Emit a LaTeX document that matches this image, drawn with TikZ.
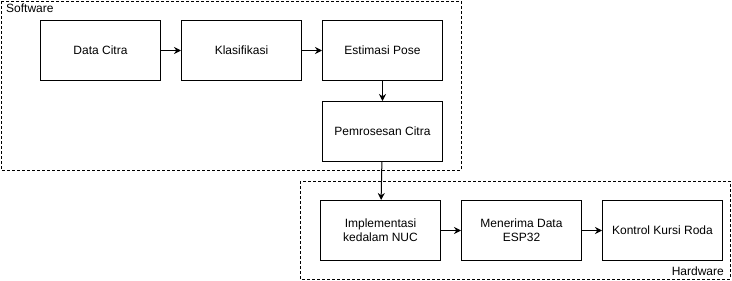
\documentclass[tikz,border=0pt]{standalone}
\usepackage{fontspec}
\setmainfont{Liberation Sans}
\usetikzlibrary{arrows.meta, positioning}

\begin{document}
\begin{tikzpicture}[
    x=1pt, y=-1pt,
    box/.style={draw, line width=1pt, minimum width=120pt, minimum height=60pt, align=center, font=\fontsize{12}{14}\selectfont, inner sep=0pt},
    group/.style={draw, line width=0.8pt, dash pattern=on 3pt off 2pt},
    arrow/.style={-{Stealth[length=7pt, width=7pt]}, line width=1pt}
]
    \useasboundingbox (0,0) rectangle (732,281);

    % software part
    \draw[group] (1,1) rectangle (461,170);
    \node[anchor=north west, inner sep=0pt, font=\fontsize{12}{14}\selectfont] (sw) at (6,4) {Software};

    \node[box, anchor=north west] (data) at (40,20) {Data Citra};
    \node[box, right=20pt of data] (klas) {Klasifikasi};
    \node[box, right=20pt of klas] (pose) {Estimasi Pose};
    \node[box, below=20pt of pose] (proses) {Pemrosesan Citra};

    % hardware part
    \draw[group] (300,181) rectangle (730,279);
    \node[anchor=south east, inner sep=0pt, font=\fontsize{12}{14}\selectfont] (hw) at (724,276) {Hardware};

    \node[box, anchor=north west] (nuc) at (320,200) {Implementasi\\kedalam NUC};
    \node[box, right=20pt of nuc] (esp) {Menerima Data\\ESP32};
    \node[box, right=20pt of esp] (kursi) {Kontrol Kursi Roda};

    \draw[arrow] (data) -- (klas);
    \draw[arrow] (klas) -- (pose);
    \draw[arrow] (pose) -- (proses);
    \draw[arrow] (proses) -- (nuc);
    \draw[arrow] (nuc) -- (esp);
    \draw[arrow] (esp) -- (kursi);
\end{tikzpicture}
\end{document}
